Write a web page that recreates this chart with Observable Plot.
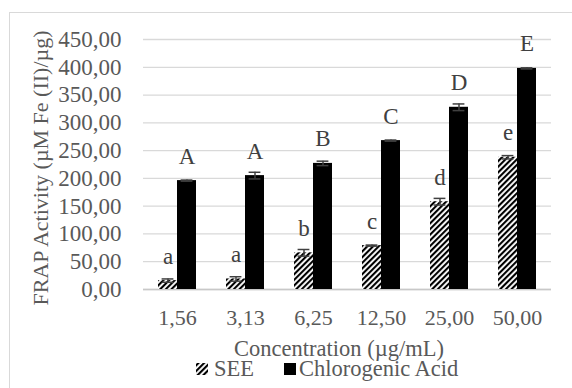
<!DOCTYPE html>
<html><head><meta charset="utf-8">
<script src="https://cdn.jsdelivr.net/npm/d3@7"></script>
<script src="https://cdn.jsdelivr.net/npm/@observablehq/plot@0.6"></script>
<style>
body{margin:0;background:#fff;overflow:hidden}
#wrap{position:relative;width:572px;height:388px;overflow:hidden;font-family:"Liberation Serif","Times New Roman",serif}
#frame{position:absolute;left:9px;top:12px;width:600px;height:400px;border:1.5px solid #d9d9d9;box-sizing:border-box}
#chart{position:absolute;left:0;top:0}
#chart svg, #chart svg text{font-family:"Liberation Serif","Times New Roman",serif}
#over{position:absolute;left:0;top:0;pointer-events:none}
#over text{font-family:"Liberation Serif","Times New Roman",serif}
</style></head><body>
<div id="wrap"><div id="frame"></div><div id="chart"></div>
<svg id="over" width="572" height="388">
<defs>
<pattern id="hatch" patternUnits="userSpaceOnUse" width="4" height="4" patternTransform="rotate(45)">
<rect width="4" height="4" fill="#fff"/><rect width="2.1" height="4" fill="#000"/>
</pattern>
</defs>
</svg></div>
<script>
const concentrations = ["1,56", "3,13", "6,25", "12,50", "25,00", "50,00"];
const series = ["SEE", "Chlorogenic Acid"];
const seeValues = [16, 19, 66, 79, 158, 238];
const seeErrors = [3, 4, 6, 1, 6, 3];
const seeLetters = ["a", "a", "b", "c", "d", "e"];
const cgaValues = [196, 205, 227, 268, 328, 398];
const cgaErrors = [1, 6, 4, 1, 6, 1];
const cgaLetters = ["A", "A", "B", "C", "D", "E"];
const yTicks = [0, 50, 100, 150, 200, 250, 300, 350, 400, 450];
const yTitle = "FRAP Activity (µM Fe (II)/µg)";
const xTitle = "Concentration (µg/mL)";

const rows = concentrations.flatMap((c, i) => [
  {conc: c, series: series[0], value: seeValues[i], err: seeErrors[i], letter: seeLetters[i]},
  {conc: c, series: series[1], value: cgaValues[i], err: cgaErrors[i], letter: cgaLetters[i]}
]);
const font = '"Liberation Serif", "Times New Roman", serif';
const ebar = "#404040";

const chart = Plot.plot({
  width: 572, height: 332,
  marginLeft: 142, marginRight: 21, marginTop: 39, marginBottom: 43,
  style: {fontFamily: font, background: "transparent", overflow: "visible"},
  fx: {domain: concentrations, padding: 0},
  x: {domain: series, paddingInner: 0, paddingOuter: 0.745, axis: null},
  y: {domain: [0, 450]},
  marks: [
    Plot.gridY(yTicks, {stroke: "#d9d9d9", strokeOpacity: 1, strokeWidth: 1.3}),
    Plot.ruleY([0], {stroke: "#c8c8c8", strokeWidth: 1.3}),
    Plot.barY(rows.filter(d => d.series === series[0]), {fx: "conc", x: "series", y: "value", fill: "url(#hatch)"}),
    Plot.barY(rows.filter(d => d.series === series[1]), {fx: "conc", x: "series", y: "value", fill: "#000"}),
    Plot.ruleX(rows, {fx: "conc", x: "series", y1: d => d.value - d.err, y2: d => d.value + d.err, stroke: ebar, strokeWidth: 1.5}),
    Plot.tickY(rows, {fx: "conc", x: "series", y: d => d.value + d.err, inset: 3.6, stroke: ebar, strokeWidth: 1.5}),
    Plot.tickY(rows, {fx: "conc", x: "series", y: d => d.value - d.err, inset: 3.6, stroke: ebar, strokeWidth: 1.5}),
    Plot.text(rows, {fx: "conc", x: "series", y: "value", text: "letter", lineAnchor: "bottom", dy: -17, fontSize: 23, fontFamily: font, fill: "#404040"}),
    Plot.axisY(yTicks, {tickSize: 0, tickPadding: 22, tickFormat: d => d.toFixed(2).replace(".", ","), fontSize: 23, fontFamily: font, fill: "#595959", label: null}),
    Plot.axisFx({anchor: "bottom", tickSize: 0, tickPadding: 20, fontSize: 22, fontFamily: font, fill: "#595959", label: null})
  ]
});
document.getElementById("chart").appendChild(chart);

const over = d3.select("#over");
over.append("text").attr("transform", "translate(48,168) rotate(-90)").attr("text-anchor", "middle")
  .attr("font-size", 22).attr("fill", "#595959").text(yTitle);
over.append("text").attr("x", 339).attr("y", 356).attr("text-anchor", "middle")
  .attr("font-size", 22.5).attr("fill", "#595959").text(xTitle);
const leg = [
  {label: series[0], fill: "url(#hatch)", sx: 196, tx: 214},
  {label: series[1], fill: "#000", sx: 284, tx: 299}
];
leg.forEach(l => {
  over.append("rect").attr("x", l.sx).attr("y", 363).attr("width", 12).attr("height", 12).attr("fill", l.fill);
  over.append("text").attr("x", l.tx).attr("y", 376).attr("font-size", 22.5).attr("fill", "#595959").text(l.label);
});
</script>
</body></html>
